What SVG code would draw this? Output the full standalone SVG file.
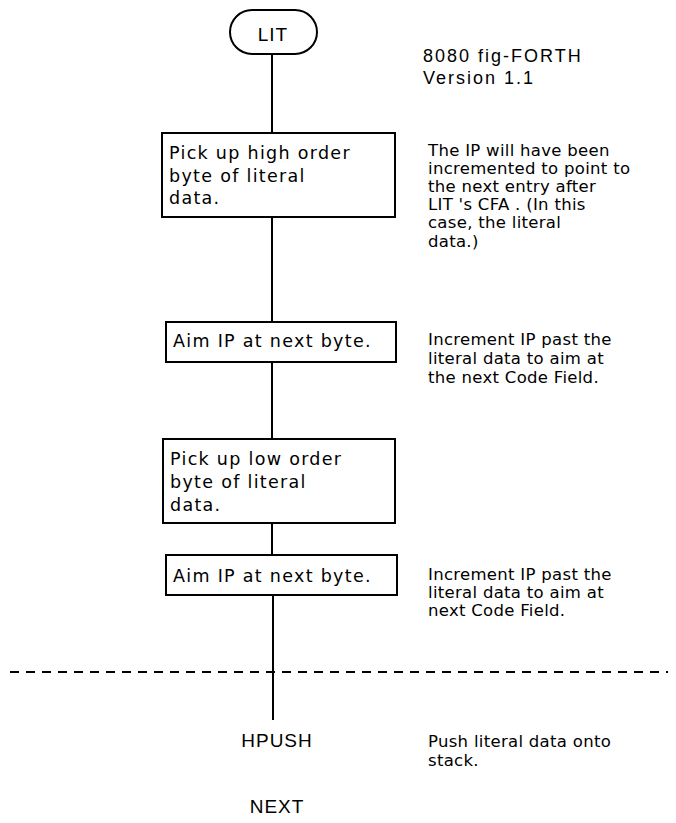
<svg xmlns="http://www.w3.org/2000/svg" width="676" height="823" viewBox="0 0 676 823">
<style>
  .box { fill: #fff; stroke: #000; stroke-width: 2; }
  .ln { stroke: #000; stroke-width: 2; fill: none; }
  .t { font-family: "DejaVu Sans", sans-serif; font-size: 17.5px; letter-spacing: 1.3px; fill: #000; }
  .n { font-family: "DejaVu Sans", sans-serif; font-size: 16.5px; letter-spacing: 0.3px; fill: #000; }
  .h { font-family: "Liberation Sans", Arial, sans-serif; font-size: 18px; letter-spacing: 2px; fill: #000; }
  .c { font-family: "Liberation Sans", Arial, sans-serif; font-size: 19px; letter-spacing: 1px; fill: #000; }
</style>
<rect width="676" height="823" fill="#fff"/>
<g id="connectors">
  <line class="ln" x1="272" y1="54" x2="272" y2="133"/>
  <line class="ln" x1="272" y1="217" x2="272" y2="322"/>
  <line class="ln" x1="272" y1="362" x2="272" y2="439"/>
  <line class="ln" x1="272" y1="523" x2="272" y2="555"/>
  <line class="ln" x1="273" y1="595" x2="273" y2="720"/>
  <line x1="10" y1="672" x2="668" y2="672" stroke="#000" stroke-width="2" stroke-dasharray="9 7"/>
</g>
<g id="lit">
  <rect class="box" x="230" y="10" width="87" height="44" rx="22" ry="22"/>
  <text class="c" x="273" y="41" text-anchor="middle">LIT</text>
</g>
<g id="title">
  <text class="h" x="423" y="62">8080 fig-FORTH</text>
  <text class="h" x="423" y="84">Version 1.1</text>
</g>
<g id="box1">
  <rect class="box" x="162" y="133" width="233" height="84"/>
  <text class="t" x="169" y="159">Pick up high order</text>
  <text class="t" x="169" y="182">byte of literal</text>
  <text class="t" x="169" y="204">data.</text>
</g>
<g id="note1">
  <text class="n" x="428" y="156">The IP will have been</text>
  <text class="n" x="428" y="174">incremented to point to</text>
  <text class="n" x="428" y="192">the next entry after</text>
  <text class="n" x="428" y="210">LIT 's CFA . (In this</text>
  <text class="n" x="428" y="228">case, the literal</text>
  <text class="n" x="428" y="247">data.)</text>
</g>
<g id="box2">
  <rect class="box" x="166" y="322" width="230" height="40"/>
  <text class="t" x="173" y="347">Aim IP at next byte.</text>
</g>
<g id="note2">
  <text class="n" x="428" y="345">Increment IP past the</text>
  <text class="n" x="428" y="364">literal data to aim at</text>
  <text class="n" x="428" y="383">the next Code Field.</text>
</g>
<g id="box3">
  <rect class="box" x="163" y="439" width="232" height="84"/>
  <text class="t" x="170" y="465">Pick up low order</text>
  <text class="t" x="170" y="488">byte of literal</text>
  <text class="t" x="170" y="511">data.</text>
</g>
<g id="box4">
  <rect class="box" x="166" y="555" width="231" height="40"/>
  <text class="t" x="173" y="582">Aim IP at next byte.</text>
</g>
<g id="note4">
  <text class="n" x="428" y="580">Increment IP past the</text>
  <text class="n" x="428" y="598">literal data to aim at</text>
  <text class="n" x="428" y="616">next Code Field.</text>
</g>
<g id="hpush">
  <text class="c" x="277" y="747" text-anchor="middle">HPUSH</text>
</g>
<g id="note5">
  <text class="n" x="428" y="747">Push literal data onto</text>
  <text class="n" x="428" y="766">stack.</text>
</g>
<g id="next">
  <text class="c" x="277" y="813" text-anchor="middle">NEXT</text>
</g>
</svg>
